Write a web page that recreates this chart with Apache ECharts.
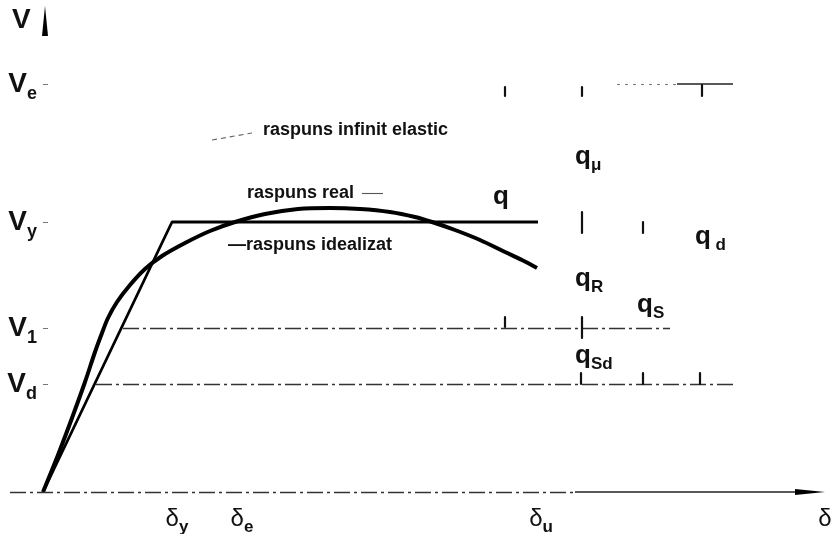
<!DOCTYPE html>
<html><head><meta charset="utf-8">
<script src="https://cdn.jsdelivr.net/npm/echarts@6/dist/echarts.min.js"></script>
<style>html,body{margin:0;padding:0;background:#fff}#c{width:832px;height:534px}</style>
</head><body><div id="c"></div>
<script>
// ---- data (displacement δ, force V) ----
const idealX = [0, 129, 495];
const idealV = [0, 270, 270];
const realX = [0, 15, 29, 42, 52, 59, 65, 74, 87, 102, 119, 142, 167, 192, 222, 255, 287, 317, 347, 372, 389, 412, 437, 462, 479, 494];
const realV = [0, 37, 74, 110, 140, 159, 174, 190, 207, 223, 236, 249, 261, 270, 278, 283, 284, 283, 280, 275, 270, 262, 252, 240, 232, 224];
const levelValues = [408, 270, 164, 108];
const levelMain = ['V', 'V', 'V', 'V'];
const levelSub = ['e', 'y', '1', 'd'];
const deltaValues = [134, 199, 498, 782];
const deltaSub = ['y', 'e', 'u', ''];
// [from, to, level]
const dashDotLines = [[80, 627, 164], [53, 690, 108], [-33, 532, 0]];
const dottedLines = [[574, 634, 408]];
const solidLines = [[634, 690, 408], [532, 758, 0]];
// [x, from, to]
const tickMarks = [[462, 396, 405], [539, 396, 405], [659, 396, 407], [539, 259, 280], [600, 259, 270],
  [462, 165, 175], [539, 154, 175], [538, 108, 119], [600, 108, 119], [657, 108, 119]];
// [main, sub, x, v]
const qLabels = [['q', '', 450, 308], ['q', 'μ', 532, 348], ['q', ' d', 652, 268], ['q', 'R', 532, 226],
  ['q', 'S', 594, 200], ['q', 'Sd', 532, 149]];
// [text, x, v]
const notes = [['raspuns infinit elastic', 220, 362], ['raspuns real', 204, 299], ['—raspuns idealizat', 185, 247]];
const leaderDashed = [[169, 352, 209, 359]];
const leaderSolid = [[319, 299, 340, 299]];
const axisName = ['V', -31, 472];
const arrows = [[2, 471, 0], [767, 0, -90]];

const FF = '"Liberation Sans", Arial, sans-serif';
const chart = echarts.init(document.getElementById('c'));

const ml = [];
dashDotLines.forEach(([a, b, v]) => ml.push([{ coord: [a, v], lineStyle: { color: '#333', width: 1.3, type: [16, 4, 3, 4] } }, { coord: [b, v] }]));
dottedLines.forEach(([a, b, v]) => ml.push([{ coord: [a, v], lineStyle: { color: '#777', width: 1.2, type: [3, 5] } }, { coord: [b, v] }]));
solidLines.forEach(([a, b, v]) => ml.push([{ coord: [a, v], lineStyle: { color: '#222', width: 1.5, type: 'solid' } }, { coord: [b, v] }]));
tickMarks.forEach(([x, a, b]) => ml.push([{ coord: [x, a], lineStyle: { color: '#111', width: 2.2, type: 'solid', cap: 'round' } }, { coord: [x, b] }]));
leaderDashed.forEach(([x1, y1, x2, y2]) => ml.push([{ coord: [x1, y1], lineStyle: { color: '#666', width: 1.1, type: [5, 4] } }, { coord: [x2, y2] }]));
leaderSolid.forEach(([x1, y1, x2, y2]) => ml.push([{ coord: [x1, y1], lineStyle: { color: '#555', width: 1.1, type: 'solid' } }, { coord: [x2, y2] }]));

const labelData = [];
qLabels.forEach(([m, s, x, v]) => labelData.push({
  value: [x, v],
  label: { formatter: '{m|' + m + '}' + (s ? '{s|' + s + '}' : ''), align: 'left', verticalAlign: 'top' }
}));
notes.forEach(([t, x, v]) => labelData.push({
  value: [x, v],
  label: { formatter: '{n|' + t + '}', align: 'left', verticalAlign: 'middle' }
}));
labelData.push({ value: [axisName[1], axisName[2]], label: { formatter: '{v|' + axisName[0] + '}', align: 'left', verticalAlign: 'middle' } });

chart.setOption({
  animation: false,
  backgroundColor: '#fff',
  grid: { left: 10, right: 0, top: 0, bottom: 42, containLabel: false, outerBoundsMode: 'none' },
  xAxis: {
    type: 'value', min: -33, max: 789,
    splitLine: { show: false },
    axisLine: { show: true, onZero: true, lineStyle: { color: 'rgba(0,0,0,0)' } },
    axisTick: { show: false },
    axisLabel: {
      customValues: deltaValues, margin: 15, color: '#111',
      formatter: v => { const i = deltaValues.indexOf(v); return '{m|δ}' + (deltaSub[i] ? '{s|' + deltaSub[i] + '}' : ''); },
      rich: {
        m: { fontSize: 24, lineHeight: 24, fontFamily: FF, color: '#111', verticalAlign: 'top' },
        s: { fontSize: 17, lineHeight: 17, fontWeight: 'bold', fontFamily: FF, color: '#111', padding: [12, 0, 0, 0], verticalAlign: 'top' }
      }
    }
  },
  yAxis: {
    type: 'value', min: 0, max: 492, offset: -33,
    splitLine: { show: false },
    axisLine: { show: true, onZero: false, lineStyle: { color: 'rgba(0,0,0,0)' } },
    axisTick: { show: true, inside: true, length: 5, customValues: levelValues, lineStyle: { color: '#777', width: 1 } },
    axisLabel: {
      customValues: levelValues, margin: 6, color: '#111',
      formatter: v => { const i = levelValues.indexOf(v); return '{m|' + levelMain[i] + '}{s|' + levelSub[i] + '}'; },
      rich: {
        m: { fontSize: 28, lineHeight: 28, fontWeight: 'bold', fontFamily: FF, color: '#111', verticalAlign: 'top' },
        s: { fontSize: 18, lineHeight: 18, fontWeight: 'bold', fontFamily: FF, color: '#111', padding: [15, 0, 0, 0], verticalAlign: 'top' }
      }
    }
  },
  series: [
    { type: 'line', name: 'raspuns idealizat', data: idealX.map((x, i) => [x, idealV[i]]), showSymbol: false, symbol: 'none',
      lineStyle: { color: '#000', width: 2.8 }, z: 3 },
    { type: 'line', name: 'raspuns real', data: realX.map((x, i) => [x, realV[i]]), smooth: 0.35, showSymbol: false, symbol: 'none',
      lineStyle: { color: '#000', width: 4 }, z: 4 },
    { type: 'line', data: [], markLine: { silent: true, symbol: ['none', 'none'], label: { show: false }, animation: false, data: ml }, z: 2 },
    { type: 'scatter', data: labelData, symbolSize: 1, itemStyle: { color: 'rgba(0,0,0,0)', opacity: 1 }, silent: true, z: 5,
      label: {
        show: true, position: 'inside', color: '#111', fontWeight: 'bold',
        rich: {
          m: { fontSize: 26, lineHeight: 26, fontWeight: 'bold', fontFamily: FF, color: '#111', verticalAlign: 'top' },
          s: { fontSize: 17, lineHeight: 17, fontWeight: 'bold', fontFamily: FF, color: '#111', padding: [13, 0, 0, 0], verticalAlign: 'top' },
          n: { fontSize: 18, fontWeight: 'bold', fontFamily: FF, color: '#111' },
          v: { fontSize: 28, fontWeight: 'bold', fontFamily: FF, color: '#111' }
        }
      } },
    { type: 'scatter', data: arrows.map(([x, v, r]) => ({ value: [x, v], symbolRotate: r })), symbol: 'triangle',
      symbolSize: [6, 30], itemStyle: { color: '#000', opacity: 1 }, silent: true, z: 6 }
  ]
});
</script></body></html>
